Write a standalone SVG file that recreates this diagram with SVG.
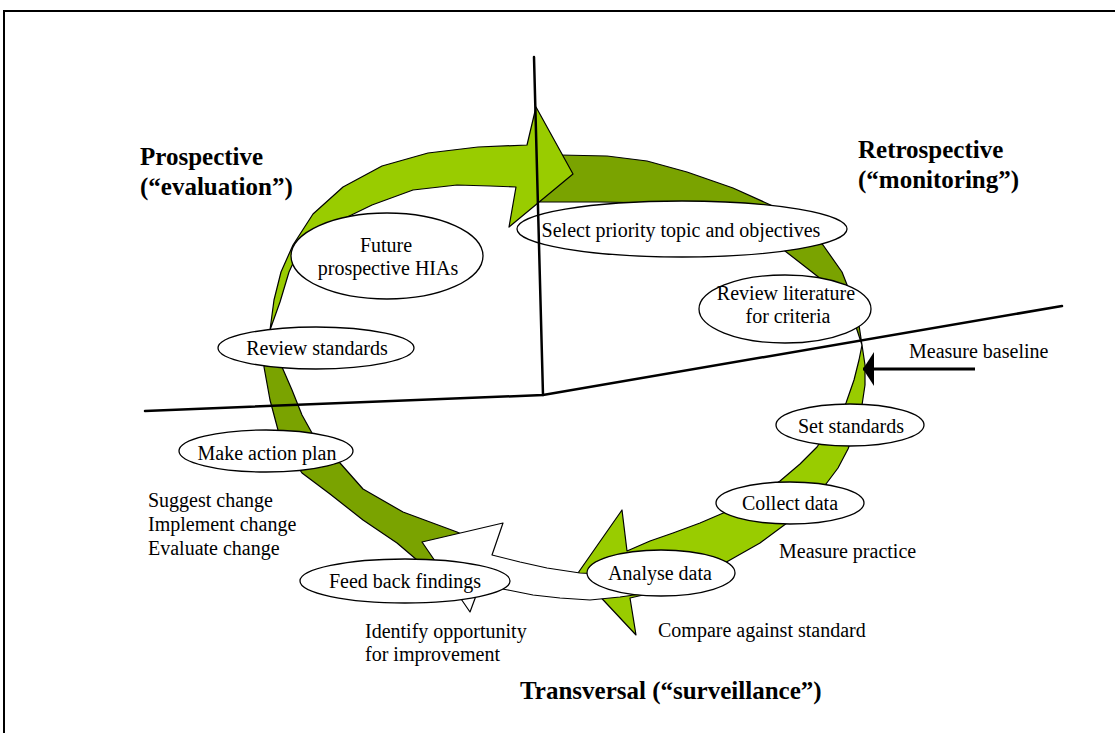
<svg xmlns="http://www.w3.org/2000/svg" width="1115" height="733" viewBox="0 0 1115 733">
  <style>
    .light { fill: #99CC00; stroke: #000; stroke-width: 1.2; stroke-linejoin: round; }
    .dark { fill: #7AA300; stroke: #000; stroke-width: 1.2; stroke-linejoin: round; }
    .blank { fill: #fff; stroke: #000; stroke-width: 1.2; stroke-linejoin: round; }
    .node ellipse { fill: #fff; stroke: #000; stroke-width: 1.3; }
    .t { font-size: 20px; fill: #000; }
    .c { text-anchor: middle; }
    .h { font-size: 25px; font-weight: bold; fill: #000; }
    .axis { stroke: #000; stroke-width: 2.5; fill: none; stroke-linecap: round; }
  </style>
  <defs>
    <marker id="head" viewBox="0 0 11 34" refX="11" refY="17" markerWidth="11" markerHeight="34" markerUnits="userSpaceOnUse" orient="auto">
      <path d="M0,0 L11,17 L0,34 Z" fill="#000"/>
    </marker>
  </defs>

  <rect width="1115" height="733" fill="#fff"/>
  <!-- page frame -->
  <path d="M4,733 L4,11 L1115,11" stroke="#000" stroke-width="2" fill="none"/>

  <!-- cycle ribbons -->
  <g id="cycle-arrows">
    <path id="ribbon-right-back" class="dark" d="M540,155 L560,155 L607,156 L647,161 L687,172 L733,188 L775,207 L805,226 L823,245 L842,272 L853,300 L859,325 L862,345 L856,327 L843,303 L826,283 L803,265 L785,251 L760,234 L730,217 L700,207 L660,203 L600,202 L540,202 Z"/>
    <path id="ribbon-right-front" class="light" d="M862,345 L865,365 L865,385 L862,405 L856,428 L848,449 L838,468 L826,484 L808,503 L787,523 L760,543 L730,560 L700,577 L665,590 L630,598 L636,635 L578,573 L622,510 L627,551 L650,541 L673,533 L700,523 L728,511 L755,497 L780,481 L800,464 L817,447 L833,423 L846,403 L854,380 L859,360 Z"/>
    <path id="ribbon-left-back" class="dark" d="M270,330 L276,350 L282,367 L292,390 L302,415 L312,433 L325,450 L340,463 L363,489 L403,512 L457,532 L485,545 L440,580 L417,560 L397,543 L363,520 L330,494 L302,473 L290,455 L278,430 L270,400 L264,367 L266,345 Z"/>
    <path id="ribbon-left-front" class="light" d="M270,330 L274,300 L281,272 L293,245 L313,214 L343,187 L382,166 L428,153 L478,147 L527,145 L536,107 L573,174 L509,227 L516,187 L490,186 L457,185 L413,190 L372,205 L337,222 L311,236 L300,248 L289,272 L280,302 Z"/>
    <path id="ribbon-bottom" class="blank" d="M422,542 L503,523 L492,555 L520,562 L547,568 L580,573 L620,575 L655,578 L655,592 L620,597 L590,600 L560,598 L533,595 L508,590 L480,585 L470,612 Z"/>
  </g>

  <g font-family="Liberation Serif, DejaVu Serif, Times New Roman, serif">
    <!-- steps of the cycle -->
    <g id="node-future" class="node">
      <ellipse cx="387" cy="256" rx="96" ry="43"/>
      <text class="t c" x="386" y="252">Future</text>
      <text class="t c" x="388" y="275">prospective HIAs</text>
    </g>
    <g id="node-review-standards" class="node">
      <ellipse cx="316" cy="348" rx="98" ry="21"/>
      <text class="t c" x="317" y="355">Review standards</text>
    </g>
    <g id="node-select" class="node">
      <ellipse cx="682" cy="229" rx="165" ry="28"/>
      <text class="t c" x="681" y="237">Select priority topic and objectives</text>
    </g>
    <g id="node-review-literature" class="node">
      <ellipse cx="785" cy="309" rx="86" ry="34"/>
      <text class="t c" x="786" y="300">Review literature</text>
      <text class="t c" x="788" y="323">for criteria</text>
    </g>
    <g id="node-set-standards" class="node">
      <ellipse cx="850" cy="425" rx="74" ry="21"/>
      <text class="t c" x="851" y="433">Set standards</text>
    </g>
    <g id="node-collect" class="node">
      <ellipse cx="790" cy="503" rx="74" ry="21"/>
      <text class="t c" x="790" y="510">Collect data</text>
    </g>
    <g id="node-analyse" class="node">
      <ellipse cx="661" cy="573" rx="74" ry="23"/>
      <text class="t c" x="660" y="580">Analyse data</text>
    </g>
    <g id="node-feedback" class="node">
      <ellipse cx="405" cy="581" rx="105" ry="22"/>
      <text class="t c" x="405" y="588">Feed back findings</text>
    </g>
    <g id="node-action-plan" class="node">
      <ellipse cx="266" cy="451" rx="87" ry="21"/>
      <text class="t c" x="267" y="460">Make action plan</text>
    </g>

    <!-- quadrant dividers and baseline pointer -->
    <g id="connectors">
      <path class="axis" d="M534,57 L543,395"/>
      <path class="axis" d="M145,411 L543,395 L1062,306"/>
      <path d="M975,369 L863,369" stroke="#000" stroke-width="3" fill="none" marker-end="url(#head)"/>
    </g>

    <!-- free labels -->
    <g id="labels">
      <text class="t" x="909" y="358">Measure baseline</text>
      <text class="t" x="779" y="558">Measure practice</text>
      <text class="t" x="658" y="637">Compare against standard</text>
      <text class="t" x="365" y="638">Identify opportunity</text>
      <text class="t" x="365" y="661">for improvement</text>
      <text class="t" x="148" y="507">Suggest change</text>
      <text class="t" x="148" y="531">Implement change</text>
      <text class="t" x="148" y="555">Evaluate change</text>
    </g>

    <!-- perspective headings -->
    <g id="headings">
      <text class="h" x="140" y="165">Prospective</text>
      <text class="h" x="140" y="195">(“evaluation”)</text>
      <text class="h" x="858" y="158">Retrospective</text>
      <text class="h" x="858" y="188">(“monitoring”)</text>
      <text class="h" x="520" y="699">Transversal (“surveillance”)</text>
    </g>
  </g>
</svg>
